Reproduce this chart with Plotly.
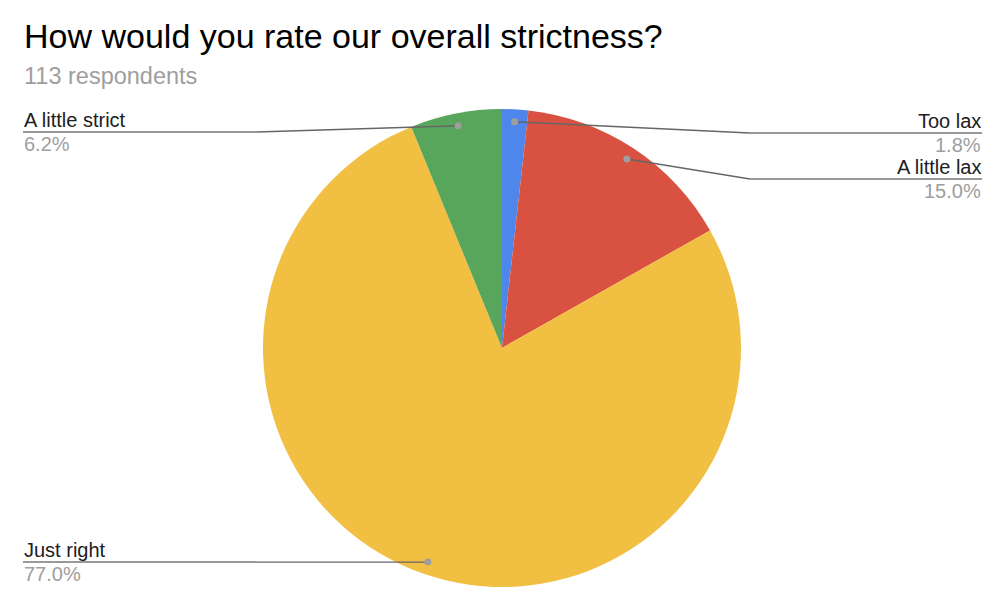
import math
import plotly.graph_objects as go

# Data
categories = ["Too lax", "A little lax", "Just right", "A little strict"]
counts = [2, 17, 87, 7]
pct_labels = ["1.8%", "15.0%", "77.0%", "6.2%"]
colors = ["#4F86EC", "#D95140", "#F1BF42", "#58A65C"]

W, H = 1000, 609
CX, CY, R = 502, 348, 239  # pie centre / radius in px
DOT_R = 0.948 * R

# label layout (side, line y in px) ; None -> same as dot y
label_layout = {
    "Too lax": ("right", 133),
    "A little lax": ("right", 179),
    "Just right": ("left", None),
    "A little strict": ("left", 132),
}
RIGHT_ELBOW, RIGHT_END = 750, 982
LEFT_ELBOW, LEFT_END = 257, 23


def px(x):
    return x / W


def py(y):
    return 1 - y / H


fig = go.Figure()
fig.add_trace(go.Pie(
    labels=categories, values=counts, sort=False, direction="clockwise",
    rotation=0, textinfo="none", showlegend=False,
    marker=dict(colors=colors, line=dict(width=0)),
    domain=dict(x=[px(CX - R), px(CX + R)], y=[py(CY + R), py(CY - R)]),
))

shapes = []
annotations = []
total = sum(counts)
cum = 0
for cat, c, pl in zip(categories, counts, pct_labels):
    mid = (cum + c / 2) / total
    cum += c
    ang = 2 * math.pi * mid
    dx = CX + DOT_R * math.sin(ang)
    dy = CY - DOT_R * math.cos(ang)
    side, ly = label_layout[cat]
    if ly is None:
        ly = dy
    if side == "right":
        ex, end = RIGHT_ELBOW, RIGHT_END
        xanchor = "right"
    else:
        ex, end = LEFT_ELBOW, LEFT_END
        xanchor = "left"
    # slanted segment
    shapes.append(dict(type="line", xref="paper", yref="paper",
                       x0=px(dx), y0=py(dy), x1=px(ex), y1=py(ly),
                       line=dict(color="#666666", width=1.4)))
    # horizontal segment
    shapes.append(dict(type="line", xref="paper", yref="paper",
                       x0=px(ex), y0=py(ly), x1=px(end), y1=py(ly),
                       line=dict(color="#999999", width=2)))
    # dot
    shapes.append(dict(type="circle", xref="paper", yref="paper",
                       x0=px(dx - 3.5), x1=px(dx + 3.5),
                       y0=py(dy + 3.5), y1=py(dy - 3.5),
                       fillcolor="#9e9e9e", line=dict(width=0)))
    annotations.append(dict(x=px(end), y=py(ly), xref="paper", yref="paper",
                            text=cat, showarrow=False, xanchor=xanchor,
                            yanchor="bottom", yshift=0, borderpad=0,
                            font=dict(family="Liberation Sans, Arial", size=20, color="#202020")))
    annotations.append(dict(x=px(end), y=py(ly), xref="paper", yref="paper",
                            text=pl, showarrow=False, xanchor=xanchor,
                            yanchor="top", yshift=0, borderpad=0,
                            font=dict(family="Liberation Sans, Arial", size=20, color="#9e9e9e")))

annotations.append(dict(x=px(22), y=py(36), xref="paper", yref="paper",
                        text="How would you rate our overall strictness?",
                        showarrow=False, xanchor="left", yanchor="middle",
                        font=dict(family="Liberation Sans, Arial", size=34, color="#000000")))
annotations.append(dict(x=px(22), y=py(76), xref="paper", yref="paper",
                        text="113 respondents",
                        showarrow=False, xanchor="left", yanchor="middle",
                        font=dict(family="Liberation Sans, Arial", size=23.5, color="#9e9e9e")))

fig.update_layout(
    width=W, height=H, margin=dict(l=0, r=0, t=0, b=0),
    paper_bgcolor="white", plot_bgcolor="white",
    shapes=shapes, annotations=annotations,
)
fig.write_html("out.html")
